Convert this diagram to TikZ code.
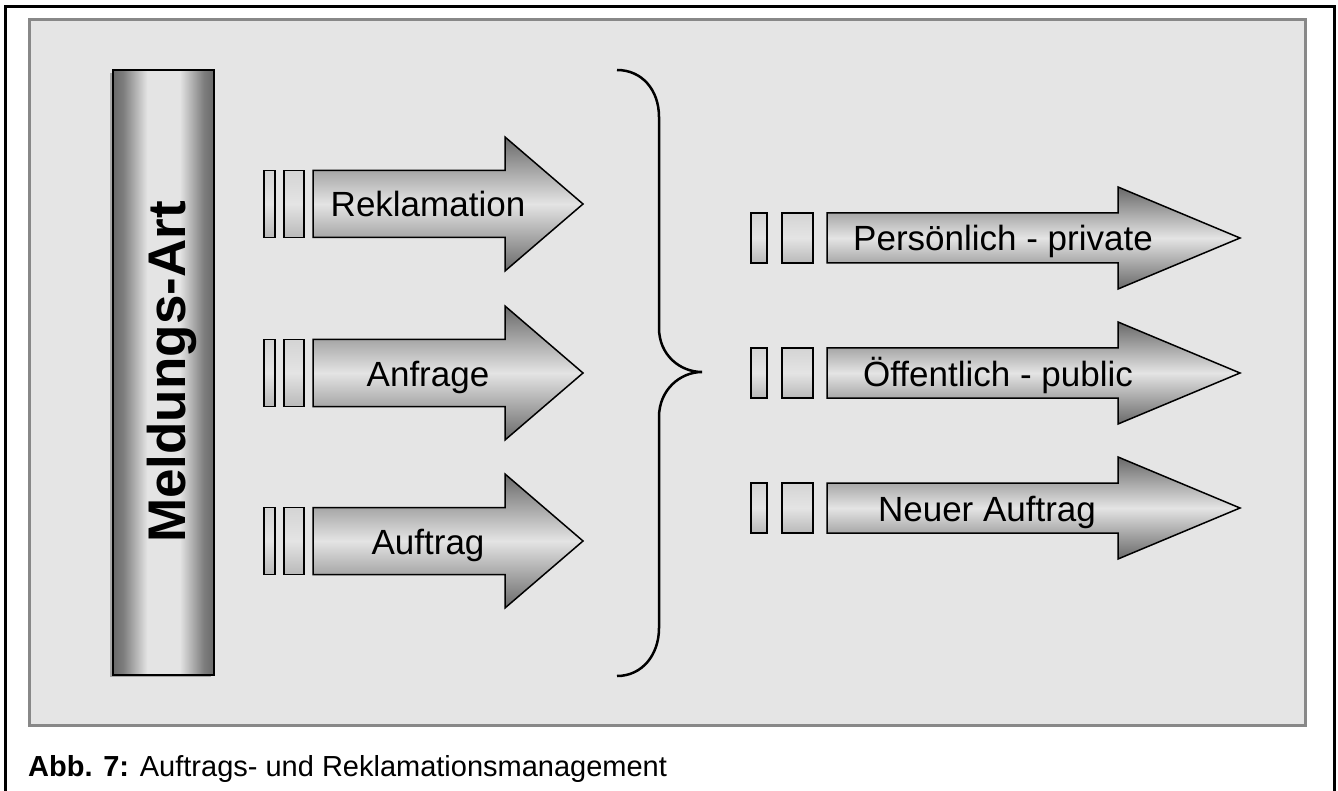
\documentclass[tikz,border=0pt]{standalone}
\usepackage{fontspec}
\setmainfont{Liberation Sans}
\definecolor{panelbg}{RGB}{229,229,229}
\definecolor{panelln}{RGB}{136,136,136}
\definecolor{adark}{RGB}{105,105,105}
\definecolor{alight}{RGB}{228,228,228}
\definecolor{tbtop}{RGB}{212,212,212}
\definecolor{tbbot}{RGB}{185,185,185}
\definecolor{bmid}{RGB}{125,125,125}
\pgfdeclarehorizontalshading{barshade}{100bp}{color(0bp)=(adark); color(25bp)=(adark); color(30bp)=(bmid); color(42bp)=(alight); color(58bp)=(alight); color(70bp)=(bmid); color(75bp)=(adark); color(100bp)=(adark)}
\newcommand{\myarrow}[6]{\path[arrowshape] (#1,#4-#5) -- (#2,#4-#5) -- (#2,#4-#6) -- (#3,#4) -- (#2,#4+#6) -- (#2,#4+#5) -- (#1,#4+#5) -- cycle;}
\newcommand{\mytick}[4]{\path[tickbar] (#1,#3-#4) rectangle (#2,#3+#4);}
\begin{document}
\begin{tikzpicture}[x=1pt,y=-1pt,
  arrowshape/.style={draw=black, line width=1.5pt, line join=miter, top color=adark, bottom color=adark, middle color=alight},
  tickbar/.style={draw=black, line width=1.5pt, top color=tbtop, bottom color=tbbot, middle color=alight},
  lbl/.style={font=\fontsize{35}{40}\selectfont, inner sep=0pt, anchor=base},
  frameline/.style={draw=black, line width=2.5pt},
]
\useasboundingbox (0,0) rectangle (1338,791);
% outer frame
\draw[frameline] (5.5,791) -- (5.5,6.5) -- (1334.5,6.5) -- (1334.5,791);
% panel
\path[fill=panelbg, draw=panelln, line width=2.5pt] (29.5,19.5) rectangle (1305.5,725.5);
% vertical bar
\path[fill=gray!70] (110,73) rectangle (211,677);
\path[shading=barshade, draw=black, line width=2pt] (113,70) rectangle (214,675);
\node[rotate=90, anchor=base, inner sep=0pt, font=\bfseries\fontsize{53}{60}\selectfont] (meld) at (185,372) {Meldungs-Art};
% left arrows
\foreach \c in {204,373,541}{
  \mytick{264}{275}{\c}{33.5}
  \mytick{284}{304}{\c}{33.5}
  \myarrow{313}{505}{583}{\c}{33.5}{67}
}
\node[lbl] (rek) at (428,217) {Reklamation};
\node[lbl] (anf) at (428,386) {Anfrage};
\node[lbl] (auf) at (428,554) {Auftrag};
% brace
\draw[line width=2.5pt] (617,70) .. controls (642,70) and (659,90) .. (659,117) -- (659,328)
  .. controls (659,355) and (680,372) .. (702,372)
  .. controls (680,372) and (659,390) .. (659,417) -- (659,628)
  .. controls (659,655) and (642,676) .. (617,676);
% right arrows
\foreach \c in {238,373,508}{
  \mytick{751}{767}{\c}{25}
  \mytick{782}{813}{\c}{25}
  \myarrow{827}{1118}{1240}{\c}{25}{51}
}
\node[lbl] (pers) at (1003,251) {Persönlich - private};
\node[lbl] (oeff) at (998,386) {Öffentlich - public};
\node[lbl] (neu) at (987,521) {Neuer Auftrag};
% caption
\node[anchor=base west, inner sep=0pt, font=\fontsize{29}{34}\selectfont] (cap) at (28,776) {\textbf{Abb. 7:} Auftrags- und Reklamationsmanagement};
\end{tikzpicture}
\end{document}
